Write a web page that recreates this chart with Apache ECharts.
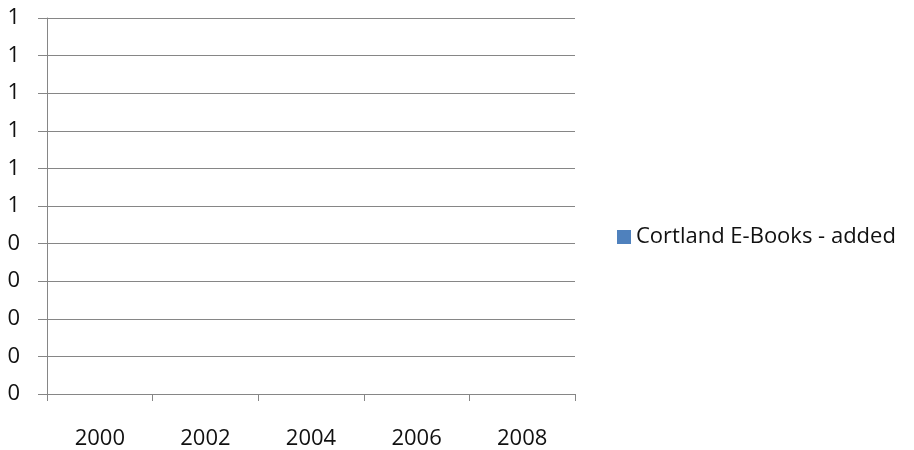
<!DOCTYPE html>
<html>
<head>
<meta charset="utf-8">
<script src="https://cdn.jsdelivr.net/npm/echarts@6/dist/echarts.min.js"></script>
<style>html,body{margin:0;padding:0;background:#fff;}#c{width:914px;height:450px;}</style>
</head>
<body>
<div id="c"></div>
<script>
const categories = ['2000', '2002', '2004', '2006', '2008'];
const seriesName = 'Cortland E-Books - added';
const seriesValues = [0, 0, 0, 0, 0];
const yMin = 0, yMax = 1, yStep = 0.1;

const chart = echarts.init(document.getElementById('c'));
const font = 'Open Sans, Liberation Sans, Arial, sans-serif';
chart.setOption({
  animation: false,
  grid: { left: 47, right: 339, top: 18, bottom: 56, containLabel: false },
  legend: {
    data: [seriesName],
    left: 617, top: 226, padding: 0,
    itemWidth: 14, itemHeight: 14, itemGap: 6,
    icon: 'rect',
    textStyle: { fontSize: 22, color: '#111', fontFamily: font }
  },
  xAxis: {
    type: 'category',
    data: categories,
    boundaryGap: true,
    axisLine: { lineStyle: { color: '#868686', width: 1 } },
    axisTick: { show: true, length: 7, alignWithLabel: false, lineStyle: { color: '#868686' } },
    axisLabel: { color: '#111', fontSize: 22, fontFamily: font, margin: 34 }
  },
  yAxis: {
    type: 'value',
    min: yMin, max: yMax, interval: yStep,
    axisLine: { show: true, lineStyle: { color: '#868686', width: 1 } },
    axisTick: { show: true, length: 9, lineStyle: { color: '#868686' } },
    splitLine: { show: true, lineStyle: { color: '#868686', width: 1 } },
    axisLabel: { color: '#111', fontSize: 22, fontFamily: font, margin: 27,
      formatter: v => String(Math.round(v)) }
  },
  series: [{
    name: seriesName,
    type: 'bar',
    data: seriesValues,
    itemStyle: { color: '#4F81BD' }
  }]
});
</script>
</body>
</html>
